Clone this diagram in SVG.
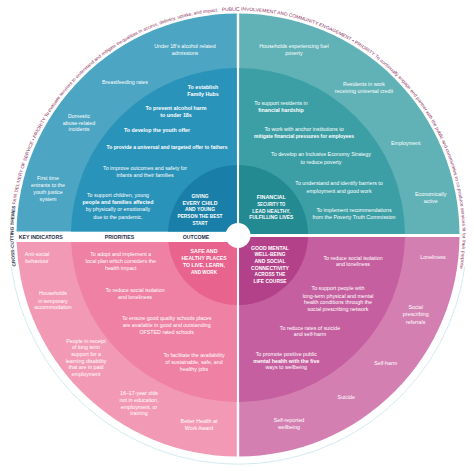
<svg xmlns="http://www.w3.org/2000/svg" width="474" height="471" viewBox="0 0 474 471">
<style>
text{font-family:"Liberation Sans",Arial,sans-serif;}
.w{fill:#fff;font-size:5.3px;text-anchor:middle;}
.b{font-weight:bold;}
.o{fill:#fff;font-size:5.6px;font-weight:bold;text-anchor:middle;}
.lbl{fill:#1f2d4d;font-size:5.2px;font-weight:bold;text-anchor:middle;}
.arc{font-size:4.6px;fill:#8a2f5e;}
.dk{fill:#2e3550;font-weight:bold;}
</style>
<defs>
<clipPath id="cTL"><rect x="0" y="0" width="236.8" height="231.5"/></clipPath>
<clipPath id="cTR"><rect x="239.2" y="0" width="240" height="234"/></clipPath>
<clipPath id="cBL"><rect x="0" y="242" width="236.8" height="240"/></clipPath>
<clipPath id="cBR"><rect x="239.2" y="237" width="240" height="240"/></clipPath>
<path id="arc1" d="M15.7 266.2 A224.5 224.5 0 0 1 218 11.4"/>
<path id="arc2" d="M221.95 11.1 A224.5 224.5 0 0 1 460 268.2"/>
</defs>
<rect width="474" height="471" fill="#fff"/>
<path d="M464.8 266.9 A229 229 0 0 1 11.2 266.9" fill="none" stroke="#d3ebf0" stroke-width="1"/>

<g id="quadrant-children" clip-path="url(#cTL)">
<circle cx="238" cy="235" r="221.5" fill="#4ba5c3"/>
<circle cx="238" cy="235" r="167" fill="#2a93b9"/>
<circle cx="238" cy="235" r="70" fill="#1a7fa8"/>
</g>
<g id="quadrant-financial" clip-path="url(#cTR)">
<circle cx="238" cy="235" r="221.5" fill="#60b2b7"/>
<circle cx="238" cy="235" r="167" fill="#3d9fa6"/>
<circle cx="238" cy="235" r="70" fill="#238a92"/>
</g>
<g id="quadrant-places" clip-path="url(#cBL)">
<circle cx="238" cy="235" r="221.5" fill="#f29ab5"/>
<circle cx="238" cy="235" r="167" fill="#ee81a4"/>
<circle cx="238" cy="235" r="70" fill="#e8648f"/>
</g>
<g id="quadrant-mental" clip-path="url(#cBR)">
<circle cx="238" cy="235" r="221.5" fill="#d47fb2"/>
<circle cx="238" cy="235" r="167" fill="#c65f9f"/>
<circle cx="238" cy="235" r="70" fill="#b2418a"/>
</g>
<circle id="hub" cx="238" cy="235.5" r="12.5" fill="#fff"/>

<g id="cross-cutting-themes">
<text class="arc"><textPath href="#arc1" textLength="364" lengthAdjust="spacingAndGlyphs"><tspan class="dk">CROSS-CUTTING THEMES</tspan>  FAIR DELIVERY OF SERVICE • PRIORITY  To evaluate services to understand and mitigate inequalities in access, delivery, uptake, and impact.</textPath></text>
<text class="arc"><textPath href="#arc2" textLength="402" lengthAdjust="spacingAndGlyphs">PUBLIC INVOLVEMENT AND COMMUNITY ENGAGEMENT • PRIORITY  To continually engage and partner with the public and communities to co-produce services fit for their purpose</textPath></text>
</g>

<g id="column-labels">
<text class="lbl" x="40.7" y="238.6">KEY INDICATORS</text>
<text class="lbl" x="119.5" y="238.6">PRIORITIES</text>
<text class="lbl" x="196" y="238.6">OUTCOME</text>
</g>

<g id="children-texts">
<text class="w" x="185" y="47.8"><tspan x="185" y="47.8">Under 18’s alcohol related</tspan><tspan x="185" y="54.5">admissions</tspan></text>
<text class="w" x="125" y="83.8">Breastfeeding rates</text>
<text class="w" x="79" y="117.8"><tspan x="79" y="117.8">Domestic</tspan><tspan x="79" y="124.5">abuse-related</tspan><tspan x="79" y="131.1">incidents</tspan></text>
<text class="w" x="48" y="179.8"><tspan x="48" y="179.8">First time</tspan><tspan x="48" y="186.8">entrants to the</tspan><tspan x="48" y="193.8">youth justice</tspan><tspan x="48" y="200.8">system</tspan></text>
<text class="w b" x="203" y="88.8"><tspan x="203" y="88.8">To establish</tspan><tspan x="203" y="95.8">Family Hubs</tspan></text>
<text class="w b" x="176" y="110"><tspan x="176" y="110">To prevent alcohol harm</tspan><tspan x="176" y="116.8">to under 18s</tspan></text>
<text class="w b" x="157" y="131.8">To develop the youth offer</text>
<text class="w b" x="167" y="148.5" textLength="121" lengthAdjust="spacingAndGlyphs">To provide a universal and targeted offer to fathers</text>
<text class="w" x="145" y="169.8"><tspan x="145" y="169.8">To improve outcomes and safety for</tspan><tspan x="145" y="176.8">infants and their families</tspan></text>
<text class="w" x="118" y="196.8"><tspan x="118" y="196.8">To support children, young</tspan><tspan class="b" x="118" y="203.5">people and families affected</tspan><tspan x="118" y="210.8">by physically or emotionally</tspan><tspan x="118" y="218.5">due to the pandemic.</tspan></text>
<text class="o" x="200" y="198"><tspan x="200" y="198" textLength="17" lengthAdjust="spacingAndGlyphs">GIVING</tspan><tspan x="200" y="204.7" textLength="35" lengthAdjust="spacingAndGlyphs">EVERY CHILD</tspan><tspan x="200" y="211.3" textLength="30" lengthAdjust="spacingAndGlyphs">AND YOUNG</tspan><tspan x="200" y="218" textLength="45" lengthAdjust="spacingAndGlyphs">PERSON THE BEST</tspan><tspan x="200" y="224.7" textLength="15" lengthAdjust="spacingAndGlyphs">START</tspan></text>
</g>

<g id="financial-texts">
<text class="w" x="294" y="47.8"><tspan x="294" y="47.8">Households experiencing fuel</tspan><tspan x="294" y="54.5">poverty</tspan></text>
<text class="w" x="364" y="85.8"><tspan x="364" y="85.8">Residents in work</tspan><tspan x="364" y="92.5">receiving universal credit</tspan></text>
<text class="w" x="405.7" y="144.5">Employment</text>
<text class="w" x="430.7" y="196.1"><tspan x="430.7" y="196.1">Economically</tspan><tspan x="430.7" y="202.5">active</tspan></text>
<text class="w" x="281" y="105.1"><tspan x="281" y="105.1">To support residents in</tspan><tspan class="b" x="281" y="111.8">financial hardship</tspan></text>
<text class="w" x="304" y="130.8"><tspan x="304" y="130.8">To work with anchor institutions to</tspan><tspan class="b" x="304" y="137.5" textLength="100" lengthAdjust="spacingAndGlyphs">mitigate financial pressures for employees</tspan></text>
<text class="w" x="321" y="156.1"><tspan x="321" y="156.1">To develop an Inclusive Economy Strategy</tspan><tspan x="321" y="163.5">to reduce poverty</tspan></text>
<text class="w" x="339" y="185.1"><tspan x="339" y="185.1">To understand and identify barriers to</tspan><tspan x="339" y="192.5">employment and good work</tspan></text>
<text class="w" x="354" y="211.8"><tspan x="354" y="211.8">To implement recommendations</tspan><tspan x="354" y="219.1">from the Poverty Truth Commission</tspan></text>
<text class="o" x="271.3" y="199.3"><tspan x="271.3" y="199.3" textLength="29" lengthAdjust="spacingAndGlyphs">FINANCIAL</tspan><tspan x="271.3" y="206" textLength="28" lengthAdjust="spacingAndGlyphs">SECURITY TO</tspan><tspan x="271.3" y="212.7" textLength="38" lengthAdjust="spacingAndGlyphs">LEAD HEALTHY,</tspan><tspan x="271.3" y="219.3" textLength="44" lengthAdjust="spacingAndGlyphs">FULFILLING LIVES</tspan></text>
</g>

<g id="places-texts">
<text class="w" x="37" y="256.1"><tspan x="37" y="256.1">Anti-social</tspan><tspan x="37" y="262.8">behaviour</tspan></text>
<text class="w" x="53" y="295.1"><tspan x="53" y="295.1">Households</tspan><tspan x="53" y="302.5">in temporary</tspan><tspan x="53" y="309.1">accommodation</tspan></text>
<text class="w" x="86" y="342.6"><tspan x="86" y="342.6">People in receipt</tspan><tspan x="86" y="349.2">of long term</tspan><tspan x="86" y="355.8">support for a</tspan><tspan x="86" y="362.5">learning disability</tspan><tspan x="86" y="369.1">that are in paid</tspan><tspan x="86" y="375.8">employment</tspan></text>
<text class="w" x="139" y="395.1"><tspan x="139" y="395.1">16–17-year olds</tspan><tspan x="139" y="401.8">not in education,</tspan><tspan x="139" y="408.5">employment, or</tspan><tspan x="139" y="415.1">training</tspan></text>
<text class="w" x="199" y="422.5"><tspan x="199" y="422.5">Better Health at</tspan><tspan x="199" y="429.5">Work Award</tspan></text>
<text class="w" x="120.7" y="256.1"><tspan x="120.7" y="256.1">To adopt and implement a</tspan><tspan x="120.7" y="262.8">local plan which considers the</tspan><tspan x="120.7" y="269.5">health impact</tspan></text>
<text class="w" x="135" y="291.8"><tspan x="135" y="291.8">To reduce social isolation</tspan><tspan x="135" y="298.5">and loneliness</tspan></text>
<text class="w" x="166.7" y="320.1"><tspan x="166.7" y="320.1">To ensure good quality schools places</tspan><tspan x="166.7" y="326.8">are available in good and outstanding</tspan><tspan x="166.7" y="333.5">OFSTED rated schools</tspan></text>
<text class="w" x="194" y="356.8"><tspan x="194" y="356.8">To facilitate the availability</tspan><tspan x="194" y="363.8">of sustainable, safe, and</tspan><tspan x="194" y="370.5">healthy jobs</tspan></text>
<text class="o" x="204" y="253"><tspan x="204" y="253" textLength="27" lengthAdjust="spacingAndGlyphs">SAFE AND</tspan><tspan x="204" y="260.3" textLength="45" lengthAdjust="spacingAndGlyphs">HEALTHY PLACES</tspan><tspan x="204" y="267" textLength="42" lengthAdjust="spacingAndGlyphs">TO LIVE, LEARN,</tspan><tspan x="204" y="273.7" textLength="26" lengthAdjust="spacingAndGlyphs">AND WORK</tspan></text>
</g>

<g id="mental-texts">
<text class="o" x="270" y="249.7"><tspan x="270" y="249.7" textLength="38" lengthAdjust="spacingAndGlyphs">GOOD MENTAL</tspan><tspan x="270" y="256.4" textLength="31" lengthAdjust="spacingAndGlyphs">WELL-BEING</tspan><tspan x="270" y="263" textLength="31" lengthAdjust="spacingAndGlyphs">AND SOCIAL</tspan><tspan x="270" y="269.7" textLength="38" lengthAdjust="spacingAndGlyphs">CONNECTIVITY</tspan><tspan x="270" y="276.3" textLength="31" lengthAdjust="spacingAndGlyphs">ACROSS THE</tspan><tspan x="270" y="283" textLength="33" lengthAdjust="spacingAndGlyphs">LIFE COURSE</tspan></text>
<text class="w" x="353" y="259.5"><tspan x="353" y="259.5">To reduce social isolation</tspan><tspan x="353" y="266.1">and loneliness</tspan></text>
<text class="w" x="338" y="290.1"><tspan x="338" y="290.1">To support people with</tspan><tspan x="338" y="297.5">long-term physical and mental</tspan><tspan x="338" y="304.1">health conditions through the</tspan><tspan x="338" y="310.8">social prescribing network</tspan></text>
<text class="w" x="310" y="329.5"><tspan x="310" y="329.5">To reduce rates of suicide</tspan><tspan x="310" y="336.1">and self-harm</tspan></text>
<text class="w" x="286.3" y="355.8"><tspan x="286.3" y="355.8">To promote positive public</tspan><tspan class="b" x="286.3" y="362.5">mental health with the five</tspan><tspan x="286.3" y="369.1">ways to wellbeing</tspan></text>
<text class="w" x="433" y="259.1">Loneliness</text>
<text class="w" x="415.7" y="309.1"><tspan x="415.7" y="309.1">Social</tspan><tspan x="415.7" y="316.1">prescribing</tspan><tspan x="415.7" y="323.5">referrals</tspan></text>
<text class="w" x="385.7" y="364.5">Self-harm</text>
<text class="w" x="346.3" y="398.5">Suicide</text>
<text class="w" x="289" y="421.8"><tspan x="289" y="421.8">Self-reported</tspan><tspan x="289" y="429.1">wellbeing</tspan></text>
</g>
</svg>
